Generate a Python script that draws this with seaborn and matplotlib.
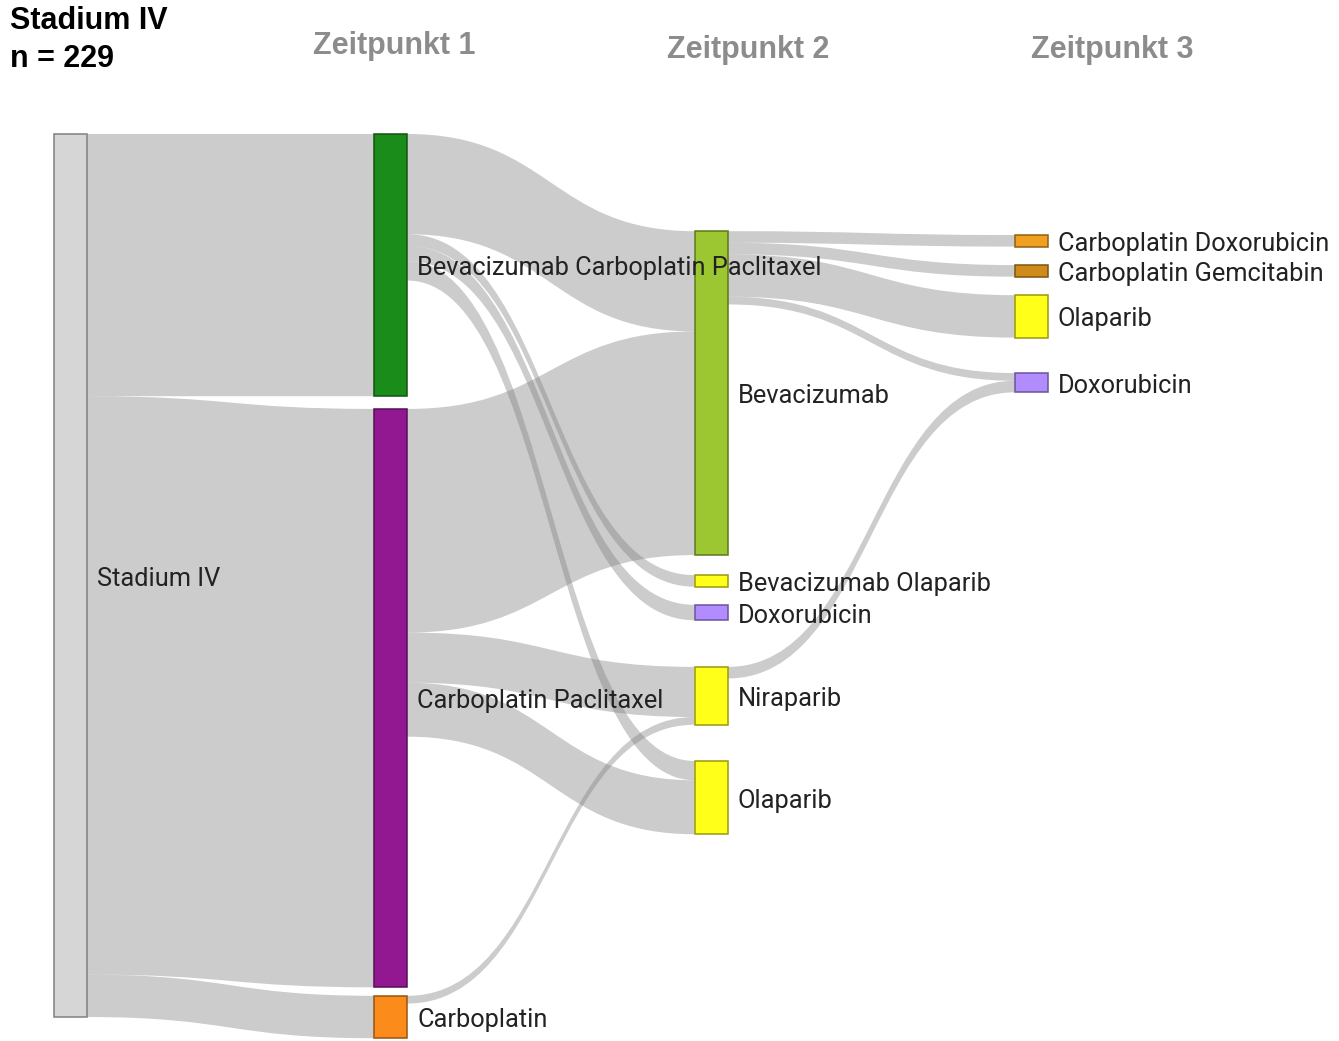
import numpy as np
import matplotlib.pyplot as plt
import seaborn as sns
from matplotlib.path import Path
from matplotlib.patches import PathPatch, Rectangle
from matplotlib.colors import to_rgb

# --- data ---
node_labels = ["Stadium IV",
               "Bevacizumab Carboplatin Paclitaxel", "Carboplatin Paclitaxel", "Carboplatin",
               "Bevacizumab", "Bevacizumab Olaparib", "Doxorubicin", "Niraparib", "Olaparib",
               "Carboplatin Doxorubicin", "Carboplatin Gemcitabin", "Olaparib", "Doxorubicin"]
node_column = [0, 1, 1, 1, 2, 2, 2, 2, 2, 3, 3, 3, 3]

link_source = [0, 0, 0, 1, 1, 1, 1, 2, 2, 2, 3, 4, 4, 4, 4, 7]
link_target = [1, 2, 3, 4, 5, 6, 8, 4, 7, 8, 7, 9, 10, 11, 12, 12]
link_value = [68, 150, 11, 26, 3, 4, 5, 58, 13, 14, 2, 3, 3, 11, 2, 3]

column_titles = ["Zeitpunkt 1", "Zeitpunkt 2", "Zeitpunkt 3"]
cohort_title = "Stadium IV"
cohort_n = 229

# --- layout / style ---
node_colors = ["#d6d6d6",
               "#1a8c1a", "#911891", "#fb8c1c",
               "#9cc731", "#ffff1a", "#b08cff", "#ffff1a", "#ffff1a",
               "#f0a020", "#d08c1a", "#ffff1a", "#b08cff"]
# top of each node, in patients from the top of the first column (like plotly node.y)
node_y = [0, 0, 71.3, 223.5, 25.2, 114.4, 122.1, 138.2, 162.6, 26.2, 34.0, 41.8, 62.0]

W_PX, H_PX = 1339, 1041
PX_PER_UNIT = 3.856
COL_PX = 320.3
LEFT_PX, TOP_PX = 54, 134
node_w = 33 / COL_PX
label_pad = 10 / COL_PX
label_drop = 3 / PX_PER_UNIT

sns.set_theme(style="white")
plt.rcParams['font.family'] = ['Roboto', 'DejaVu Sans']

fig = plt.figure(figsize=(W_PX / 100, H_PX / 100), dpi=100)
ax = fig.add_axes([0, 0, 1, 1])
ax.set_xlim(-LEFT_PX / COL_PX, (W_PX - LEFT_PX) / COL_PX)
ax.set_ylim((H_PX - TOP_PX) / PX_PER_UNIT, -TOP_PX / PX_PER_UNIT)
ax.axis("off")

n_nodes = len(node_labels)
in_sum = np.zeros(n_nodes)
out_sum = np.zeros(n_nodes)
for s, t, v in zip(link_source, link_target, link_value):
    out_sum[s] += v
    in_sum[t] += v
node_h = np.maximum(in_sum, out_sum)

# offsets of links at each node: outgoing sorted by target y, incoming by source y
out_off = {}
in_off = {}
for n in range(n_nodes):
    outs = sorted([i for i, s in enumerate(link_source) if s == n], key=lambda i: node_y[link_target[i]])
    y = node_y[n]
    for i in outs:
        out_off[i] = y
        y += link_value[i]
    ins = sorted([i for i, t in enumerate(link_target) if t == n], key=lambda i: node_y[link_source[i]])
    y = node_y[n]
    for i in ins:
        in_off[i] = y
        y += link_value[i]

# links
for i, (s, t, v) in enumerate(zip(link_source, link_target, link_value)):
    x0 = node_column[s] + node_w
    x1 = node_column[t]
    xm = (x0 + x1) / 2
    ys0, ys1 = out_off[i], out_off[i] + v
    yt0, yt1 = in_off[i], in_off[i] + v
    verts = [(x0, ys0), (xm, ys0), (xm, yt0), (x1, yt0),
             (x1, yt1), (xm, yt1), (xm, ys1), (x0, ys1), (x0, ys0)]
    codes = [Path.MOVETO, Path.CURVE4, Path.CURVE4, Path.CURVE4,
             Path.LINETO, Path.CURVE4, Path.CURVE4, Path.CURVE4, Path.CLOSEPOLY]
    ax.add_patch(PathPatch(Path(verts, codes), facecolor=(0.5, 0.5, 0.5, 0.4),
                           edgecolor="none", zorder=1))

# nodes and labels
for n in range(n_nodes):
    fc = np.array(to_rgb(node_colors[n]))
    ec = fc * 0.6
    ax.add_patch(Rectangle((node_column[n], node_y[n]), node_w, node_h[n],
                           facecolor=fc, edgecolor=ec, linewidth=1.1, zorder=2))
    ax.text(node_column[n] + node_w + label_pad, node_y[n] + node_h[n] / 2 + label_drop,
            node_labels[n], ha="left", va="center", fontsize=18.3, color="#222222", zorder=3)

# titles
bold = ['Liberation Sans', 'DejaVu Sans']
fig.text(10 / W_PX, 1 - 21 / H_PX, cohort_title, ha="left", va="center",
         fontsize=22, fontweight="bold", color="black", family=bold)
fig.text(10 / W_PX, 1 - 59 / H_PX, f"n = {cohort_n}", ha="left", va="center",
         fontsize=22, fontweight="bold", color="black", family=bold)
for title, xc, yc in zip(column_titles, [394, 748, 1112], [46, 50, 50]):
    fig.text(xc / W_PX, 1 - yc / H_PX, title, ha="center", va="center",
             fontsize=22, fontweight="bold", color="#8c8c8c", family=bold)

fig.savefig("out.png", dpi=100, facecolor="white")
